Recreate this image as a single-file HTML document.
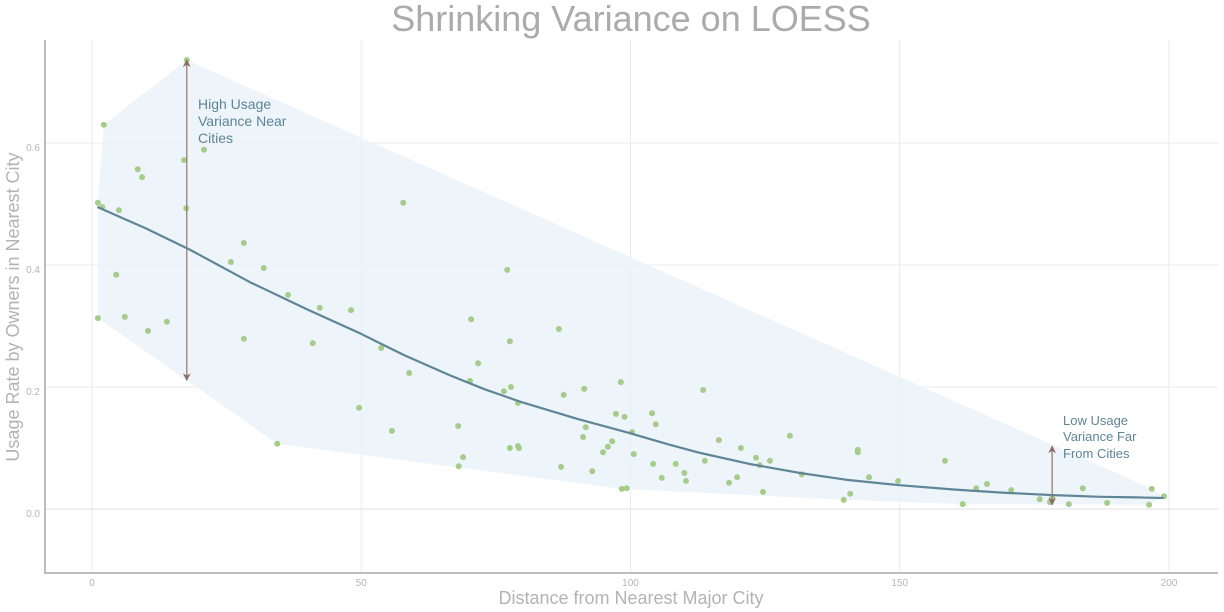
<!DOCTYPE html>
<html><head><meta charset="utf-8"><style>
html,body{margin:0;padding:0;background:#fff;position:relative;}
svg{display:block;font-family:"Liberation Sans",sans-serif;}
</style></head><body>
<svg id="chart" width="1224" height="612" xmlns="http://www.w3.org/2000/svg"></svg>
<script>
const xTicks=[0,50,100,150,200];
const yTicks=[0.0,0.2,0.4,0.6];
const yTickLabels=["0.0","0.2","0.4","0.6"];
const pointsX=[17.6,2.2,20.8,17.1,8.5,9.3,1.1,1.9,5.0,17.5,57.8,28.2,25.8,31.9,4.5,77.1,36.4,42.3,48.1,1.1,6.1,13.9,10.4,70.4,86.7,28.2,41.0,77.6,53.7,71.7,58.9,70.2,98.2,113.5,91.4,76.5,77.8,87.6,79.1,49.6,97.3,104.0,98.9,104.7,91.7,55.7,68.0,100.3,116.4,129.6,96.6,34.4,91.2,95.8,79.1,79.3,77.6,120.5,94.9,142.2,142.2,100.6,68.9,123.3,125.9,158.4,113.8,108.4,104.2,124.0,68.1,87.1,92.9,110.0,131.8,105.8,119.8,144.3,110.3,149.7,118.3,166.2,164.2,184.0,196.8,99.3,98.4,170.7,124.6,140.8,176.0,178.3,199.1,139.6,161.7,181.4,188.5,196.3,177.9];
const pointsY=[0.736,0.630,0.589,0.572,0.557,0.544,0.502,0.495,0.490,0.493,0.502,0.436,0.405,0.395,0.384,0.392,0.351,0.330,0.326,0.313,0.315,0.307,0.292,0.311,0.295,0.279,0.272,0.275,0.264,0.239,0.223,0.210,0.208,0.195,0.197,0.193,0.200,0.187,0.174,0.166,0.156,0.157,0.151,0.139,0.134,0.128,0.136,0.126,0.113,0.120,0.111,0.107,0.118,0.102,0.103,0.100,0.100,0.100,0.093,0.097,0.093,0.090,0.085,0.084,0.079,0.079,0.079,0.074,0.074,0.072,0.070,0.069,0.062,0.059,0.057,0.051,0.052,0.052,0.046,0.046,0.043,0.041,0.034,0.034,0.033,0.034,0.033,0.031,0.028,0.025,0.016,0.018,0.021,0.015,0.008,0.008,0.010,0.007,0.011];
const loessX=[1,10,18.2,29.3,40,50,58,66.5,73,79.5,90,100,107,112.9,122,131.5,140,150,160,168.6,178,187.2,194,199];
const loessY=[0.495,0.460,0.425,0.372,0.327,0.287,0.252,0.219,0.196,0.176,0.148,0.124,0.106,0.092,0.074,0.059,0.048,0.039,0.032,0.027,0.023,0.020,0.019,0.018];
const hullX=[1.1,2.2,17.6,196.8,199.1,196.3,161.7,139.6,98.4,34.4,1.1];
const hullY=[0.502,0.630,0.736,0.033,0.021,0.007,0.008,0.015,0.033,0.107,0.313];
const arrowX=[17.6,178.3];
const arrowY0=[0.211,0.007];
const arrowY1=[0.736,0.103];

const NS="http://www.w3.org/2000/svg";
const svg=document.getElementById('chart');
const X=v=>92+v*5.385;
const Y=v=>509-v*610;
function mk(t,a,p){const e=document.createElementNS(NS,t);for(const k in a)e.setAttribute(k,a[k]);(p||svg).appendChild(e);return e;}

const defs=mk('defs',{});
const m=mk('marker',{id:'ah',viewBox:'0 0 10 10',refX:'9',refY:'5',markerWidth:'6',markerHeight:'6',orient:'auto-start-reverse'},defs);
mk('path',{d:'M0,0 L10,5 L0,10 L3,5 z',fill:'#8c6b62'},m);

const grid=mk('g',{});


xTicks.forEach(t=>{mk('line',{x1:X(t),x2:X(t),y1:40,y2:572,stroke:'#ebebeb','stroke-width':1},grid);});
yTicks.forEach(t=>{mk('line',{x1:46,x2:1218,y1:Y(t),y2:Y(t),stroke:t===0?'#e0e0e0':'#ebebeb','stroke-width':1},grid);});

const hull=mk('polygon',{points:hullX.map((v,i)=>X(v)+','+Y(hullY[i])).join(' '),fill:'#eaf3f9','fill-opacity':0.85});



const pg=mk('g',{});


pointsX.forEach((v,i)=>{const c=mk('circle',{cx:X(v),cy:Y(pointsY[i]),r:3,fill:'#a6cc8c'},pg);

});

const ln=mk('path',{d:loessX.map((v,i)=>(i?'L':'M')+X(v)+','+Y(loessY[i])).join(' '),fill:'none',stroke:'#5f8597','stroke-width':2.2,'stroke-linejoin':'round'});



arrowX.forEach((v,i)=>{const a=mk('line',{x1:X(v),x2:X(v),y1:Y(arrowY0[i]),y2:Y(arrowY1[i]),stroke:'#9c7c72','stroke-width':1.3,'marker-start':'url(#ah)','marker-end':'url(#ah)'});

});

const ax=mk('path',{d:'M45,40 L45,573 L1218,573',fill:'none',stroke:'#bdbdbd','stroke-width':2});


xTicks.forEach(t=>{const e=mk('text',{x:X(t),y:586,'font-size':10,fill:'#b5b5b5','text-anchor':'middle'});e.textContent=t;

});
yTicks.forEach((t,i)=>{const e=mk('text',{x:40,y:Y(t)+8,'font-size':10,fill:'#b5b5b5','text-anchor':'end'});e.textContent=yTickLabels[i];

});
</script>
<svg style="position:absolute;left:0;top:0" width="1224" height="612" xmlns="http://www.w3.org/2000/svg" font-family="Liberation Sans, sans-serif">
<text x="631" y="31" font-size="36" fill="#ababab" text-anchor="middle">Shrinking Variance on LOESS</text>
<text x="631" y="604" font-size="18" fill="#b3b3b3" text-anchor="middle">Distance from Nearest Major City</text>
<text transform="translate(19,307) rotate(-90)" font-size="18" fill="#b3b3b3" text-anchor="middle">Usage Rate by Owners in Nearest City</text>
<g font-size="14" fill="#5e8498">
<text x="198" y="109">High Usage</text><text x="198" y="126">Variance Near</text><text x="198" y="143">Cities</text></g>
<g font-size="13" fill="#5e8498">
<text x="1063" y="425">Low Usage</text><text x="1063" y="441">Variance Far</text><text x="1063" y="458">From Cities</text></g>
</svg>
</body></html>
